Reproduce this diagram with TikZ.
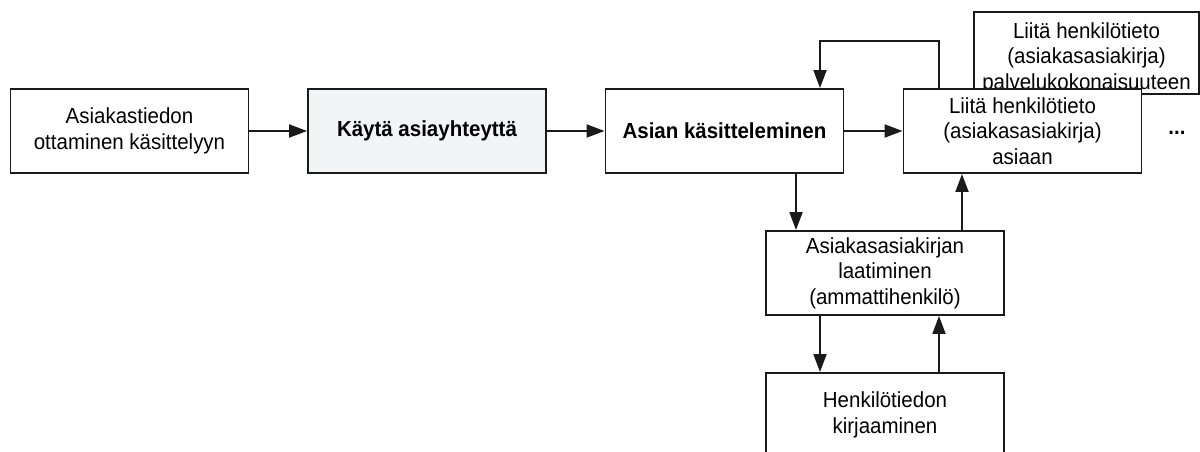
\documentclass[tikz,border=0pt]{standalone}
\usepackage{fontspec}
\setmainfont{Liberation Sans}[FakeStretch=0.94]
\usetikzlibrary{arrows.meta}
\definecolor{stepfill}{HTML}{F3F4F6}
\definecolor{ink}{HTML}{1A1A1A}
\begin{document}
\begin{tikzpicture}[x=1pt,y=-1pt,
  procbox/.style={draw=ink,line width=1.9pt,fill=white,minimum width=238pt,minimum height=84pt,
    align=center,inner sep=0pt,font=\fontsize{21.8}{25.5}\selectfont},
  boldbox/.style={procbox,font=\fontsize{21.8}{25.5}\selectfont\bfseries},
  boxtext/.style={align=center,inner sep=0pt,font=\fontsize{21.8}{25.5}\selectfont},
  flow/.style={draw=ink,line width=1.9pt,-{Triangle[length=18pt,width=13pt]}}]
\useasboundingbox (0,0) rectangle (1200,452);
% main row
\node[procbox] (intake) at (129.5,131) {Asiakastiedon\\ottaminen käsittelyyn};
\node[boldbox,fill=stepfill] (use) at (427,131) {Käytä asiayhteyttä};
\node[boldbox] (handle) at (724.5,131) {Asian käsitteleminen};
% attachment to the service entity (its lower part is covered by the next box)
\node[procbox,minimum width=225pt,minimum height=82pt] (service) at (1086.5,53) {};
\node[boxtext] (servicetext) at ([yshift=-5pt]service.center)
  {Liitä henkilötieto\\(asiakasasiakirja)\\palvelukokonaisuuteen};
\node[procbox] (attach) at (1022.5,131) {Liitä henkilötieto\\(asiakasasiakirja)\\asiaan};
\node[font=\fontsize{21.8}{25.5}\selectfont\bfseries,inner sep=0pt] (more) at (1177,133) {...};
% lower column
\node[procbox] (draft) at (885,273) {Asiakasasiakirjan\\laatiminen\\(ammattihenkilö)};
\node[procbox] (record) at (885,415) {Henkilötiedon\\kirjaaminen};
% connectors
\draw[flow] (intake) -- (use);
\draw[flow] (use) -- (handle);
\draw[flow] (handle) -- (attach);
\draw[flow] ([xshift=-83.5pt]attach.north) -- ++(0,-47) -| ([xshift=95.5pt]handle.north);
\draw[flow] ([xshift=71.5pt]handle.south) -- ([xshift=-89pt]draft.north);
\draw[flow] ([xshift=77pt]draft.north) -- ([xshift=-60.5pt]attach.south);
\draw[flow] ([xshift=-65pt]draft.south) -- ([xshift=-65pt]record.north);
\draw[flow] ([xshift=54pt]record.north) -- ([xshift=54pt]draft.south);
\end{tikzpicture}
\end{document}
